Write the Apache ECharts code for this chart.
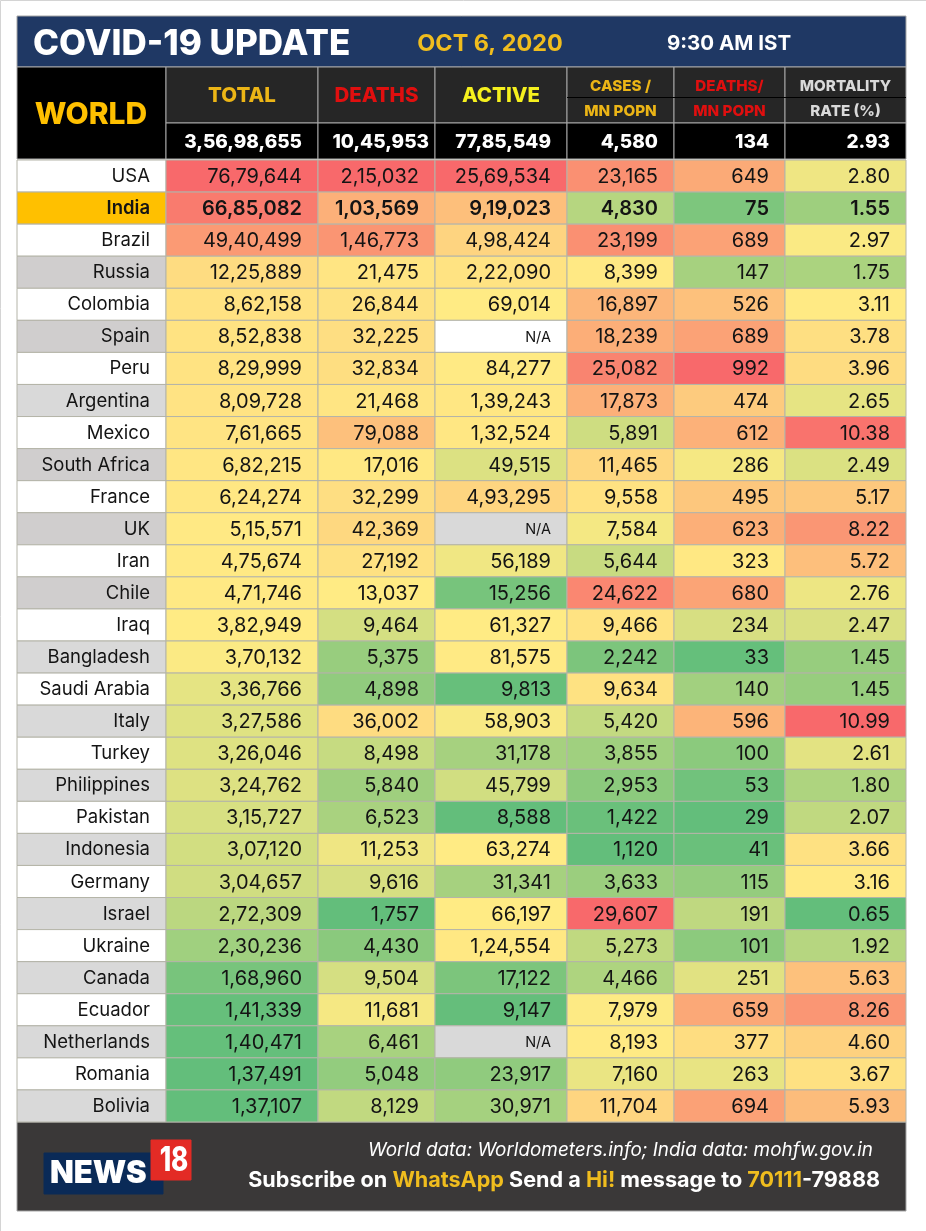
<!DOCTYPE html>
<html>
<head>
<meta charset="utf-8">
<title>COVID-19 Update</title>
<script src="https://cdn.jsdelivr.net/npm/echarts@6/dist/echarts.min.js"></script>
<style>
  html, body { margin: 0; padding: 0; background: #fff; }
  #chart { width: 926px; height: 1231px; }
</style>
</head>
<body>
<div id="chart"></div>
<script>
const countries = ["USA", "India", "Brazil", "Russia", "Colombia", "Spain", "Peru", "Argentina", "Mexico", "South Africa", "France", "UK", "Iran", "Chile", "Iraq", "Bangladesh", "Saudi Arabia", "Italy", "Turkey", "Philippines", "Pakistan", "Indonesia", "Germany", "Israel", "Ukraine", "Canada", "Ecuador", "Netherlands", "Romania", "Bolivia"];
const total = [7679644, 6685082, 4940499, 1225889, 862158, 852838, 829999, 809728, 761665, 682215, 624274, 515571, 475674, 471746, 382949, 370132, 336766, 327586, 326046, 324762, 315727, 307120, 304657, 272309, 230236, 168960, 141339, 140471, 137491, 137107];
const deaths = [215032, 103569, 146773, 21475, 26844, 32225, 32834, 21468, 79088, 17016, 32299, 42369, 27192, 13037, 9464, 5375, 4898, 36002, 8498, 5840, 6523, 11253, 9616, 1757, 4430, 9504, 11681, 6461, 5048, 8129];
const active = [2569534, 919023, 498424, 222090, 69014, null, 84277, 139243, 132524, 49515, 493295, null, 56189, 15256, 61327, 81575, 9813, 58903, 31178, 45799, 8588, 63274, 31341, 66197, 124554, 17122, 9147, null, 23917, 30971];
const casesPerMn = [23165, 4830, 23199, 8399, 16897, 18239, 25082, 17873, 5891, 11465, 9558, 7584, 5644, 24622, 9466, 2242, 9634, 5420, 3855, 2953, 1422, 1120, 3633, 29607, 5273, 4466, 7979, 8193, 7160, 11704];
const deathsPerMn = [649, 75, 689, 147, 526, 689, 992, 474, 612, 286, 495, 623, 323, 680, 234, 33, 140, 596, 100, 53, 29, 41, 115, 191, 101, 251, 659, 377, 263, 694];
const mortality = [2.80, 1.55, 2.97, 1.75, 3.11, 3.78, 3.96, 2.65, 10.38, 2.49, 5.17, 8.22, 5.72, 2.76, 2.47, 1.45, 1.45, 10.99, 2.61, 1.80, 2.07, 3.66, 3.16, 0.65, 1.92, 5.63, 8.26, 4.60, 3.67, 5.93];
const worldTotals = ["3,56,98,655", "10,45,953", "77,85,549", "4,580", "134", "2.93"];

const FONT = "Inter, 'Noto Sans', sans-serif";
const columns = [total, deaths, active, casesPerMn, deathsPerMn, mortality];
const columnEdges = [0, 149, 301, 418, 550, 657, 768, 889];
const darkerRows = ["Russia", "Spain", "South Africa", "UK", "Chile"];
const naFill = { Spain: "#ffffff", UK: "#d9d9d9", Netherlands: "#d9d9d9" };

const hexToRgb = (h) => [1, 3, 5].map((i) => parseInt(h.slice(i, i + 2), 16));
const GREEN = hexToRgb("#63BE7B");
const YELLOW = hexToRgb("#FFEB84");
const RED = hexToRgb("#F8696B");

const mix = (a, b, t) =>
  "rgb(" + a.map((v, i) => Math.round(v + (b[i] - v) * t)).join(",") + ")";

// same 3-colour rule as a spreadsheet: min / 50th percentile / max
const makeScale = (values) => {
  const sorted = values.filter((v) => v !== null).sort((a, b) => a - b);
  const n = sorted.length;
  const mid = n % 2 ? sorted[(n - 1) / 2] : (sorted[n / 2 - 1] + sorted[n / 2]) / 2;
  const lo = sorted[0];
  const hi = sorted[n - 1];
  return (v) =>
    v <= mid ? mix(GREEN, YELLOW, (v - lo) / (mid - lo)) : mix(YELLOW, RED, (v - mid) / (hi - mid));
};
const scales = columns.map(makeScale);

// lakh / crore grouping
const formatIndian = (v) => {
  const s = String(v);
  if (s.length <= 3) return s;
  const tail = s.slice(-3);
  const head = s.slice(0, -3).replace(/\B(?=(\d{2})+(?!\d))/g, ",");
  return head + "," + tail;
};
const formatCell = (col, v) => {
  if (v === null) return "N/A";
  return col === 5 ? v.toFixed(2) : formatIndian(v);
};

const cellData = [];
columns.forEach((values, col) => {
  values.forEach((v, row) => cellData.push([col, row, v]));
});

const renderCell = (params, api) => {
  const col = api.value(0);
  const row = api.value(1);
  const v = columns[col][row];
  const left = api.coord([columnEdges[col + 1], row])[0];
  const right = api.coord([columnEdges[col + 2], row])[0];
  const cy = api.coord([0, row])[1];
  const h = api.size([0, 1])[1];
  const isIndia = countries[row] === "India";
  const fill = v === null ? naFill[countries[row]] : scales[col](v);
  return {
    type: "group",
    children: [
      {
        type: "rect",
        shape: { x: left, y: cy - h / 2, width: right - left, height: h },
        style: { fill, stroke: "#b4b4a8", lineWidth: 1 },
      },
      {
        type: "text",
        style: {
          x: right - 16,
          y: cy + 1,
          text: formatCell(col, v),
          align: "right",
          verticalAlign: "middle",
          fill: "#141414",
          font: (isIndia ? "600 " : "400 ") + (v === null ? "14.5px " : "20px ") + FONT,
        },
      },
    ],
  };
};

const renderCountry = (params, api) => {
  const row = api.value(0);
  const name = countries[row];
  const left = api.coord([0, row])[0];
  const right = api.coord([columnEdges[1], row])[0];
  const cy = api.coord([0, row])[1];
  const h = api.size([0, 1])[1];
  let fill = row % 2 === 0 ? "#ffffff" : "#d9d9d9";
  if (name === "India") fill = "#ffc000";
  if (darkerRows.includes(name)) fill = "#d0cece";
  return {
    type: "group",
    children: [
      {
        type: "rect",
        shape: { x: left, y: cy - h / 2, width: right - left, height: h },
        style: { fill, stroke: "#b4b4a8", lineWidth: 1 },
      },
      {
        type: "text",
        style: {
          x: right - 16,
          y: cy + 0.5,
          text: name,
          align: "right",
          verticalAlign: "middle",
          fill: "#141414",
          font: (name === "India" ? "600 " : "400 ") + "18.5px " + FONT,
        },
      },
    ],
  };
};

const box = (x, y, w, h, fill, stroke) => ({
  type: "rect",
  shape: { x, y, width: w, height: h },
  style: { fill, stroke: stroke || "#a6a6a6", lineWidth: 1 },
  silent: true,
});
const label = (x, y, text, size, fill, align, weight) => ({
  type: "text",
  x,
  y,
  style: {
    text,
    fill,
    align: align || "center",
    verticalAlign: "middle",
    font: (weight || 800) + " " + size + "px " + FONT,
  },
  silent: true,
});

const headerLeft = columnEdges.slice(1).map((e) => e + 17);

const graphics = [
  // page edge
  box(0.5, 0.5, 930, 1240, "transparent", "#d4d4d4"),
  // title band
  box(17, 16, 889, 51, "#1f3864"),
  label(33, 44, "COVID-19 UPDATE", 35, "#ffffff", "left"),
  label(490, 44, "OCT 6, 2020", 23.4, "#f0bd1e", "center", 700),
  label(729, 44, "9:30 AM IST", 20.5, "#ffffff", "center", 700),
  // world block
  box(17, 67, 149, 92, "#000000"),
  label(91, 115, "WORLD", 30, "#ffc000", "center"),
];

const headerFills = [
  ["TOTAL", "#ecb516"],
  ["DEATHS", "#e00f0f"],
  ["ACTIVE", "#f5f01e"],
];
headerFills.forEach(([text, color], i) => {
  const l = headerLeft[i];
  const r = headerLeft[i + 1];
  graphics.push(box(l, 67, r - l, 56, "#262626"));
  graphics.push(label((l + r) / 2, 96, text, 20.5, color));
});
const twoLineHeaders = [
  ["CASES /", "MN POPN", "#ecb516"],
  ["DEATHS/", "MN POPN", "#e00f0f"],
  ["MORTALITY", "RATE (%)", "#d9d9d9"],
];
twoLineHeaders.forEach(([top, bottom, color], i) => {
  const l = headerLeft[i + 3];
  const r = headerLeft[i + 4];
  graphics.push(box(l, 67, r - l, 56, "#262626"));
  graphics.push(label((l + r) / 2, 86, top, 15.2, color));
  graphics.push(label((l + r) / 2, 111, bottom, 15.2, color));
});
graphics.push({
  type: "line",
  shape: { x1: headerLeft[3], y1: 97.5, x2: 906, y2: 97.5 },
  style: { stroke: "#000000", lineWidth: 1 },
  silent: true,
});
worldTotals.forEach((text, i) => {
  const l = headerLeft[i];
  const r = headerLeft[i + 1];
  graphics.push(box(l, 123, r - l, 36, "#000000"));
  // the deaths figure runs almost to the cell edge in the source
  graphics.push(label(r - (i === 1 ? 6 : 16), 142.5, text, 19, "#ffffff", "right"));
});

// footer
graphics.push(box(17, 1122, 889, 89, "#3a3838"));
graphics.push(box(44, 1153, 119, 41, "#0a2a57", "#0a2a57"));
graphics.push(box(151, 1140, 40, 40, "#e32b25", "#e32b25"));
graphics.push(label(50, 1174, "NEWS", 31, "#ffffff", "left", 900));
graphics.push({ ...label(174, 1161, "18", 26, "#ffffff", "center", 800), scaleY: 1.3 });
graphics.push({
  type: "text",
  x: 873,
  y: 1150,
  style: {
    text: "World data: Worldometers.info; India data: mohfw.gov.in",
    fill: "#ffffff",
    align: "right",
    verticalAlign: "middle",
    font: "italic 400 18.9px " + FONT,
  },
  silent: true,
});
graphics.push({
  type: "text",
  x: 880,
  y: 1180,
  style: {
    text: "{w|Subscribe on }{y|WhatsApp}{w| Send a }{y|Hi!}{w| message to }{y|70111}{w|-79888}",
    align: "right",
    verticalAlign: "middle",
    rich: {
      w: { fill: "#ffffff", font: "700 21.6px " + FONT },
      y: { fill: "#f0bd1e", font: "700 21.6px " + FONT },
    },
  },
  silent: true,
});

const chart = echarts.init(document.getElementById("chart"));
chart.setOption({
  animation: false,
  backgroundColor: "#ffffff",
  grid: { left: 17, top: 160, width: 889, height: 962, containLabel: false },
  xAxis: { type: "value", min: 0, max: 889, show: false },
  yAxis: { type: "category", data: countries, inverse: true, show: false },
  graphic: graphics,
  series: [
    {
      type: "custom",
      renderItem: renderCountry,
      data: countries.map((c, i) => [i]),
      encode: { y: 0 },
      silent: true,
    },
    {
      type: "custom",
      renderItem: renderCell,
      data: cellData,
      encode: { y: 1 },
      silent: true,
    },
  ],
});
</script>
</body>
</html>
